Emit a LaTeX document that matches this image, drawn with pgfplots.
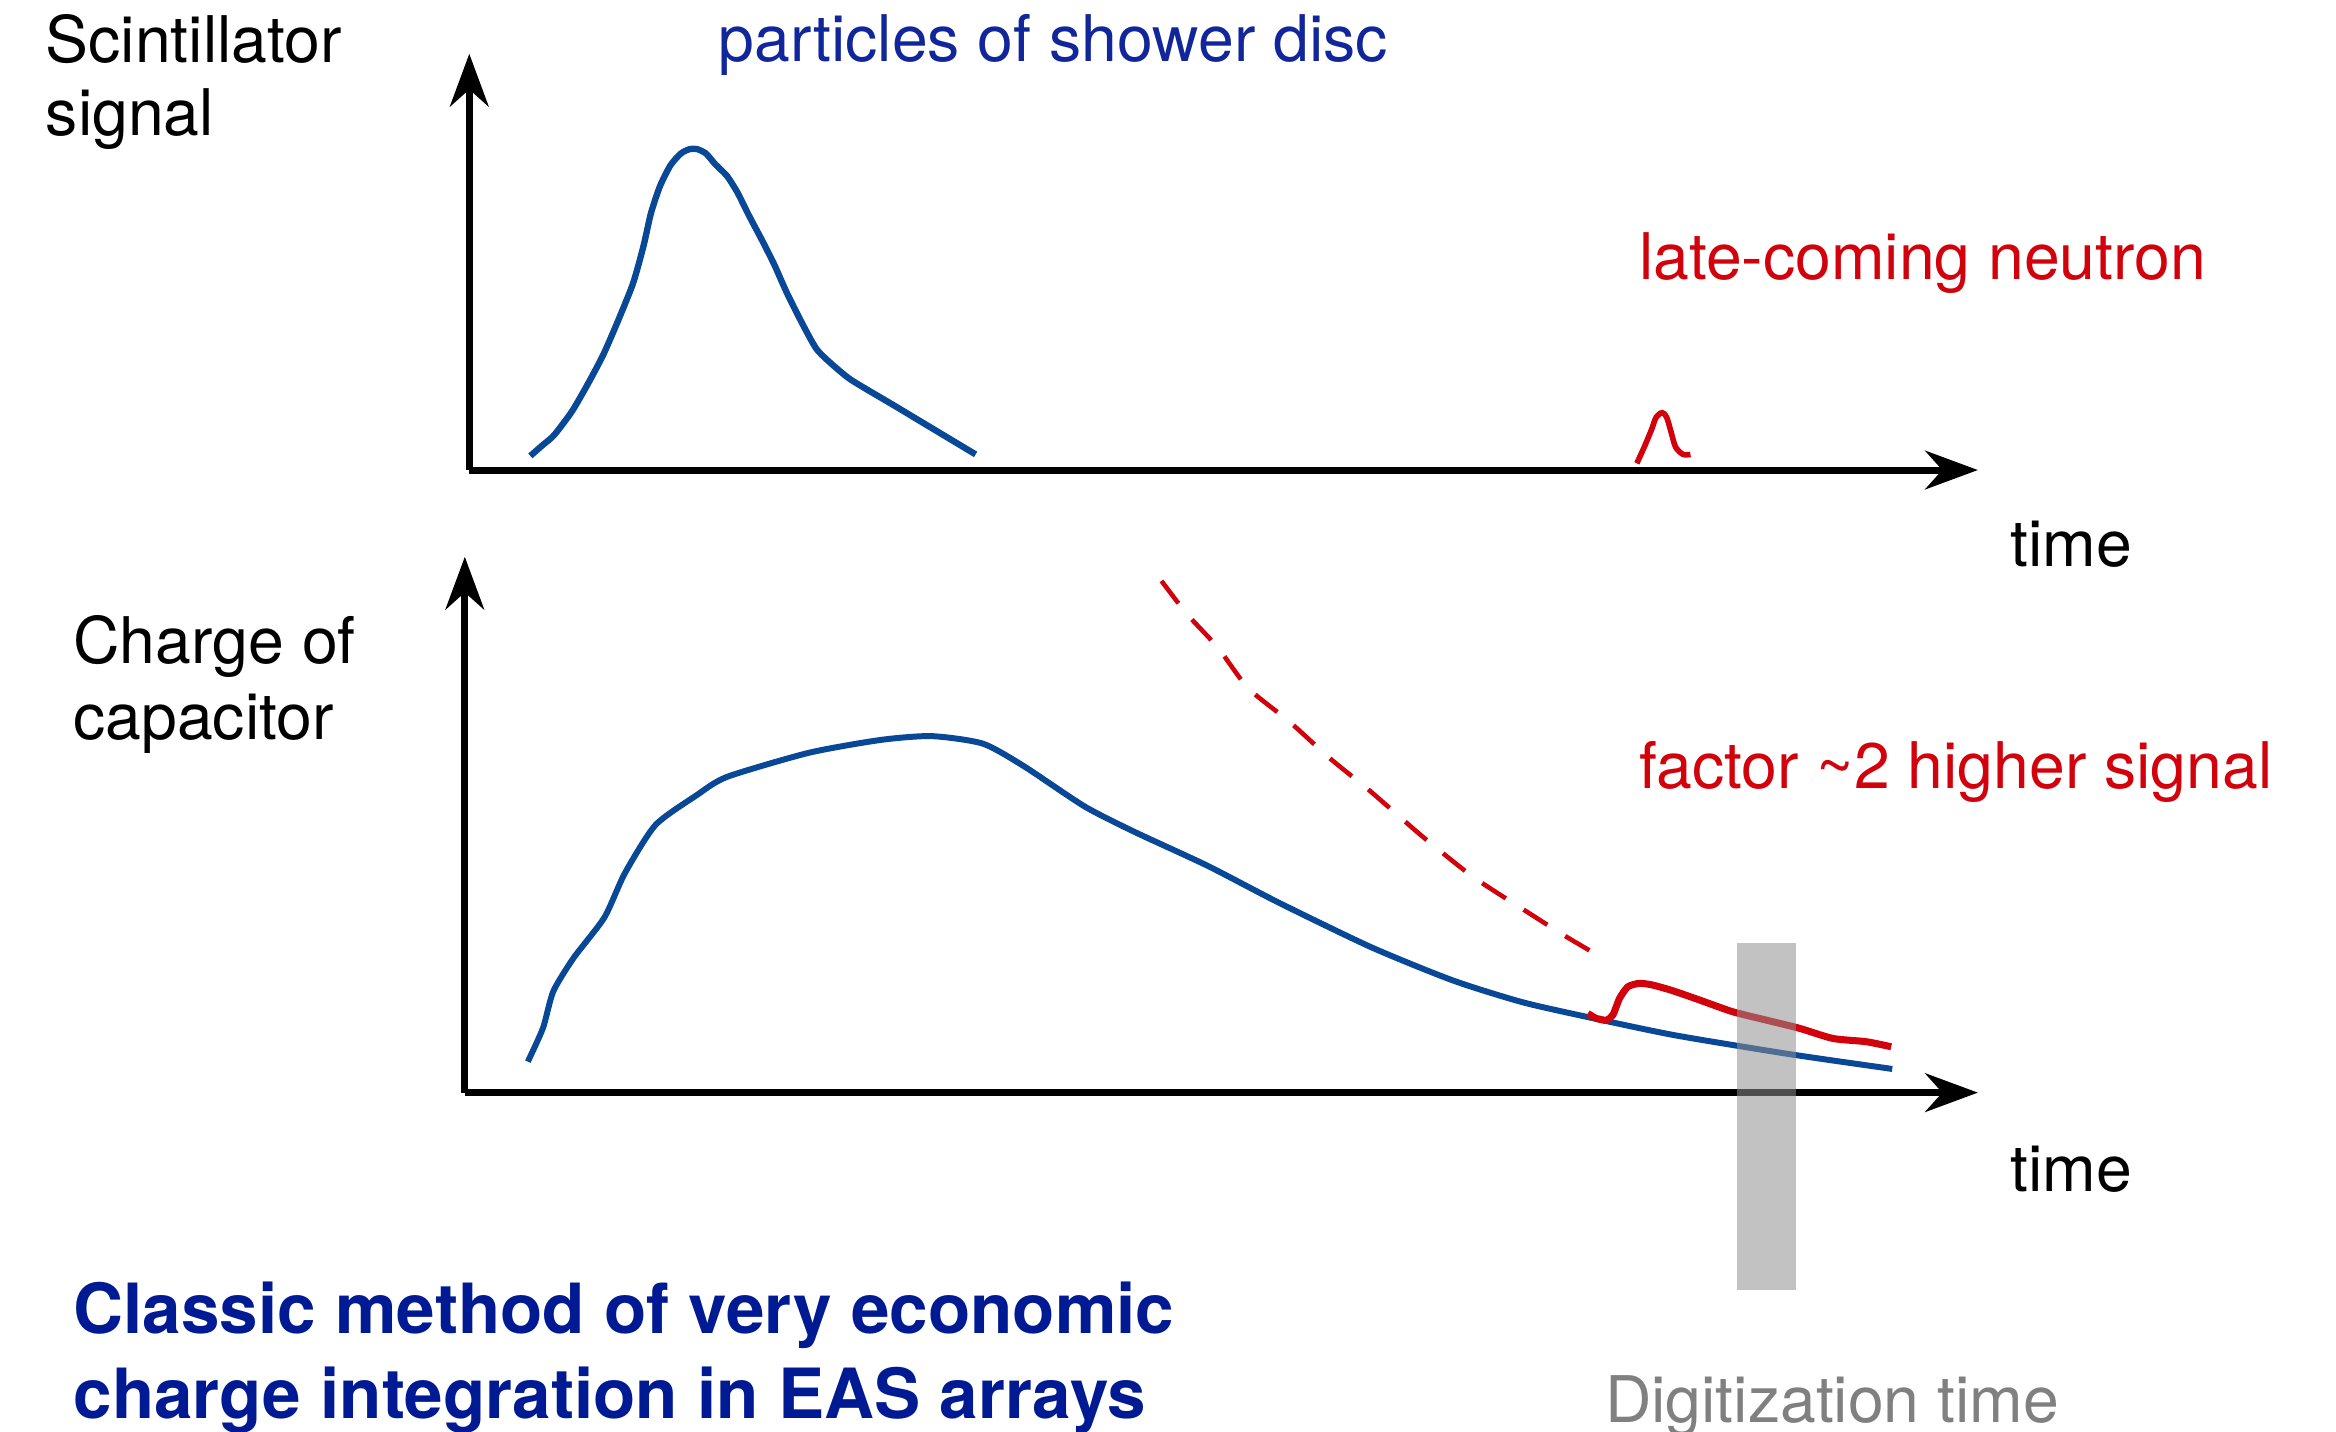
\documentclass[border=0pt]{standalone}
\usepackage{pgfplots}
\pgfplotsset{compat=1.18}
\usetikzlibrary{arrows.meta}
\usepackage{fontspec}
\setmainfont{TeX Gyre Heros}
\definecolor{cblue}{RGB}{8,72,150}
\definecolor{cred}{RGB}{210,2,12}
\definecolor{tblue}{RGB}{18,38,155}
\definecolor{ttitle}{RGB}{0,26,148}
\definecolor{tgray}{RGB}{128,128,128}
\definecolor{rgray}{RGB}{143,143,143}
\tikzset{txt/.style={anchor=base west, inner sep=0pt, font=\fontsize{18.3pt}{22pt}\selectfont}}
\pgfplotsset{myax/.style={x=0.014898cm, y=0.014898cm,
  axis x line=bottom, axis y line=left, xtick=\empty, ytick=\empty,
  axis line style={line width=2pt, black, -{Stealth[length=15pt,width=11pt]}},
  clip=false, anchor=south west}}
\begin{document}
\begin{tikzpicture}
\useasboundingbox (0,0) rectangle (23.36cm,14.317cm);
% ---------------- top panel ----------------
\begin{axis}[myax, at={(4.6929cm,9.6167cm)}, xmin=315, xmax=1328, ymin=645.5, ymax=925]
\addplot[cblue, line width=1.8pt, smooth, tension=0.4] coordinates {
(356,655)(364,662)(372,669)(384,685)(395,704)(405,723)(415,746)(425,771)(432,796)(437,818)
(443,836)(450,850)(457,858)(463,861)(468,861)(474,858)(480,851)(488,843)(495,832)(503,816)
(512,799)(520,783)(528,765)(538,745)(548,727)(558,717)(570,707)(583,699)(600,689)(620,677)
(640,665)(655,656)};
\addplot[cred, line width=1.6pt, smooth, tension=0.5] coordinates {
(1099,650)(1104,661)(1109,673)(1112,681)(1116,684)(1119,681)(1122,671)(1125,661)(1130,656)(1135,656)};
\node[txt] at (axis cs:30.2,919.4) {Scintillator};
\node[txt] at (axis cs:30.2,870.2) {signal};
\node[txt, text=tblue] at (axis cs:482,919.5) {particles of shower disc};
\node[txt, text=cred] at (axis cs:1100,773.5) {late-coming neutron};
\node[txt] at (axis cs:1349.5,581) {time};
\end{axis}
% ---------------- bottom panel ----------------
\begin{axis}[myax, at={(4.6482cm,3.3908cm)}, xmin=312, xmax=1328, ymin=227.6, ymax=587.4]
\addplot[cblue, line width=1.7pt, smooth, tension=0.4] coordinates {
(354.3,248.4)(364.5,271)(371.4,295.6)(385,318)(405.7,345.2)(419.5,375)(440,407.3)(467.5,427.2)
(488,439.6)(543,455.8)(591,464.4)(625.3,467)(659.7,462)(687.1,447)(728.3,419.7)(762.5,402.3)
(810.6,380)(858.7,355.1)(920.5,325.3)(975.3,303)(1023.4,288)(1078.3,275.7)(1126.3,265.8)
(1201.8,253.4)(1270.5,243.5)};
\addplot[cred, line width=1.3pt, smooth, tension=0.4, dash pattern=on 8pt off 6pt] coordinates {
(779.8,571.2)(796.9,549)(817.6,526.5)(838,499.2)(865.6,476.8)(893,452)(920.5,429.6)
(954.8,399.8)(989,372.5)(1023.4,350.2)(1050.8,332.8)(1078.3,316.6)};
\addplot[cred, line width=2pt, smooth, tension=0.4] coordinates {
(1066.1,280.8)(1071.7,277.5)(1078.4,276.3)(1082.9,279.7)(1087.4,290.9)(1093,298.7)(1100.8,301)
(1109.8,299.8)(1123.2,296)(1141.1,289.8)(1163.4,281.9)(1185.9,276.3)(1208.2,270.8)(1230.6,264)
(1253,261.8)(1269.8,258.4)};
\addplot[draw=none, fill=rgray, fill opacity=0.54] coordinates {
(1166.1,95)(1206,95)(1206,327.8)(1166.1,327.8)} -- cycle;
\node[txt] at (axis cs:48.8,516) {Charge of};
\node[txt] at (axis cs:48.8,464.5) {capacitor};
\node[txt, text=cred] at (axis cs:1100,431.7) {factor \textasciitilde 2 higher signal};
\node[txt] at (axis cs:1349.5,161) {time};
\node[txt, font=\fontsize{19.7pt}{23pt}\selectfont\bfseries, text=ttitle] at (axis cs:48.8,66) {Classic method of very economic};
\node[txt, font=\fontsize{19.7pt}{23pt}\selectfont\bfseries, text=ttitle] at (axis cs:48.8,9) {charge integration in EAS arrays};
\node[txt, text=tgray] at (axis cs:1077.3,6) {Digitization time};
\end{axis}
\end{tikzpicture}
\end{document}
